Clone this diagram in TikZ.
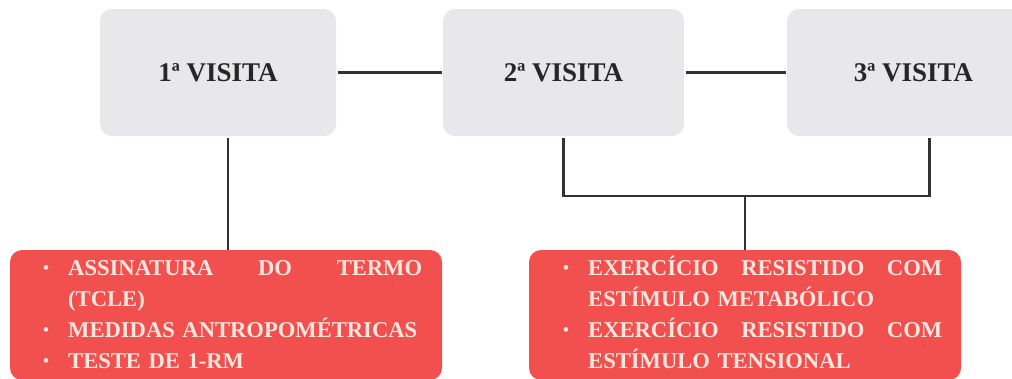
\documentclass[tikz,border=0pt]{standalone}
\usepackage{fontspec}
\setmainfont{Liberation Serif}
\definecolor{boxgray}{HTML}{E8E8EA}
\definecolor{boxred}{HTML}{F24F4F}
\definecolor{cream}{HTML}{FBE6DE}
\definecolor{linec}{HTML}{333333}
\newcommand\mybul{\makebox[28pt][l]{\hspace{3pt}\raisebox{2pt}{\fontsize{17}{17}\selectfont\textbullet}}}
\begin{document}
\begin{tikzpicture}[x=1pt,y=-1pt,
  visit/.style={fill=boxgray, rounded corners=12pt, minimum height=127pt, inner sep=0pt,
    font=\fontsize{27}{32}\selectfont\bfseries, text=black!85},
  redbox/.style={fill=boxred, rounded corners=12pt, minimum height=130pt, minimum width=432pt, inner sep=0pt},
  itemtext/.style={anchor=north west, inner sep=0pt, text width=382pt, align=left,
    font=\fontsize{22.6}{31}\selectfont\bfseries, text=cream},
  conn/.style={draw=linec, line width=2.6pt}]
\useasboundingbox (0,0) rectangle (1012,378);
\clip (0,0) rectangle (1012,378);
\node[visit, minimum width=236pt] (b1) at (218,72.5) {1ª VISITA};
\node[visit, minimum width=241pt] (b2) at (563.5,72.5) {2ª VISITA};
\node[visit, minimum width=253pt] (b3) at (913.5,72.5) {3ª VISITA};
\node[redbox] (r1) at (226,315) {};
\node[redbox] (r2) at (745,315) {};
\node[itemtext] (t1) at (40,251) {%
\rule{0pt}{24pt}\mybul\makebox[354pt][s]{ASSINATURA\hfill DO\hfill TERMO}\\
\hspace*{28pt}(TCLE)\\
\mybul MEDIDAS ANTROPOMÉTRICAS\\
\mybul TESTE DE 1-RM};
\node[itemtext] (t2) at (560,251) {%
\rule{0pt}{24pt}\mybul\makebox[354pt][s]{EXERCÍCIO\hfill RESISTIDO\hfill COM}\\
\hspace*{28pt}ESTÍMULO METABÓLICO\\
\mybul\makebox[354pt][s]{EXERCÍCIO\hfill RESISTIDO\hfill COM}\\
\hspace*{28pt}ESTÍMULO TENSIONAL};
\draw[conn, shorten <=2pt, shorten >=1pt] (b1.east) -- (b2.west);
\draw[conn, shorten <=2pt, shorten >=1pt] (b2.east) -- (b3.west);
\draw[conn, shorten >=2pt] ([xshift=2pt]r1.north) -- ([xshift=2pt]r1.north |- b1.south);
\coordinate (jy) at (0,196);
\coordinate (j) at (r2.north |- jy);
\coordinate (b3f) at ([xshift=16pt]b3.south);
\draw[conn, shorten <=2pt, shorten >=2pt] (b2.south) |- (j) -| (b3f);
\draw[conn] (j) -- (r2.north);
\end{tikzpicture}
\end{document}
